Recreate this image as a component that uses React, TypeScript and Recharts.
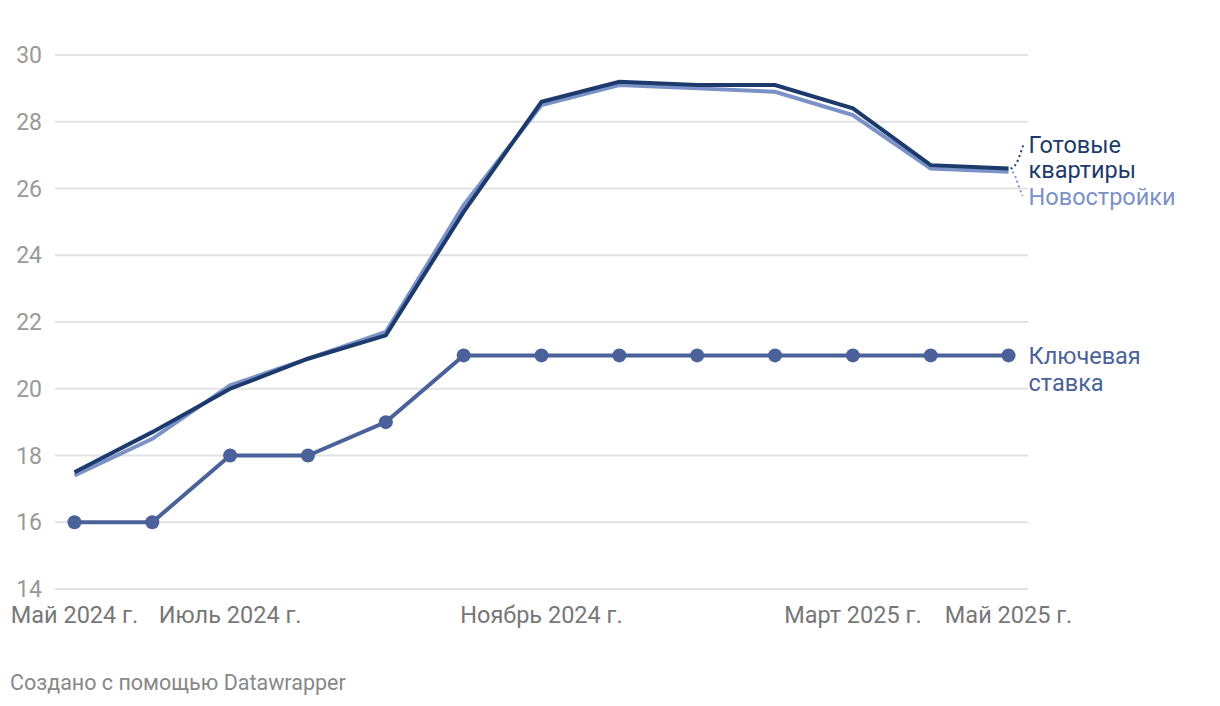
import { CartesianGrid, Line, LineChart, XAxis, YAxis } from 'recharts';

const months = [
  'Май 2024 г.', 'Июнь 2024 г.', 'Июль 2024 г.', 'Август 2024 г.', 'Сентябрь 2024 г.',
  'Октябрь 2024 г.', 'Ноябрь 2024 г.', 'Декабрь 2024 г.', 'Январь 2025 г.', 'Февраль 2025 г.',
  'Март 2025 г.', 'Апрель 2025 г.', 'Май 2025 г.',
];
const ready = [17.5, 18.7, 20.0, 20.9, 21.6, 25.3, 28.6, 29.2, 29.1, 29.1, 28.4, 26.7, 26.6];
const newBuild = [17.4, 18.5, 20.1, 20.9, 21.7, 25.5, 28.5, 29.1, 29.0, 28.9, 28.2, 26.6, 26.5];
const keyRate = [16, 16, 18, 18, 19, 21, 21, 21, 21, 21, 21, 21, 21];
const xTicks = [0, 2, 6, 10, 12];
const yTicks = [14, 16, 18, 20, 22, 24, 26, 28, 30];

const data = months.map((m, i) => ({ i, month: m, ready: ready[i], newBuild: newBuild[i], keyRate: keyRate[i] }));

const FONT = 'Roboto, "Noto Sans", sans-serif';
const DARK = '#1c3a6c';
const LIGHT = '#7a92c8';
const KEY = '#4a6199';
const last = months.length - 1;

function XTick({ x, y, payload }: any) {
  return (
    <text x={x} y={y + 26} textAnchor="middle" fontSize={23.5} fill="#777" fontFamily={FONT}>
      {months[payload.value]}
    </text>
  );
}

function YTick({ x, y, payload }: any) {
  return (
    <text x={x - 5} y={y + 8} textAnchor="end" fontSize={23} fill="#999" fontFamily={FONT}>
      {payload.value}
    </text>
  );
}

function ReadyLabel({ x, y, index }: any) {
  if (index !== last) return null;
  return (
    <g fontFamily={FONT} fontSize={23.5} fill={DARK}>
      <path d={`M${x + 2},${y} C${x + 8},${y} ${x + 12},${y - 16} ${x + 15},${y - 24}`} stroke={DARK} strokeWidth={2} strokeDasharray="2 3" fill="none" />
      <text x={x + 20} y={y - 15}>Готовые</text>
      <text x={x + 20} y={y + 10}>квартиры</text>
    </g>
  );
}

function NewLabel({ x, y, index }: any) {
  if (index !== last) return null;
  return (
    <g fontFamily={FONT} fontSize={23.5} fill={LIGHT}>
      <path d={`M${x + 4},${y} C${x + 8},${y + 4} ${x + 10},${y + 16} ${x + 14},${y + 24}`} stroke={LIGHT} strokeWidth={2} strokeDasharray="2 3" fill="none" />
      <text x={x + 20} y={y + 33}>Новостройки</text>
    </g>
  );
}

function KeyLabel({ x, y, index }: any) {
  if (index !== last) return null;
  return (
    <g fontFamily={FONT} fontSize={23.5} fill={KEY}>
      <text x={x + 20} y={y + 9}>Ключевая</text>
      <text x={x + 20} y={y + 36}>ставка</text>
    </g>
  );
}

export default function App() {
  return (
    <div style={{ position: 'absolute', left: 0, top: 0, width: 1220, height: 706, background: '#fff' }}>
      <LineChart width={1220} height={640} data={data} margin={{ top: 55, right: 192, bottom: 0, left: 0 }}>
        <CartesianGrid horizontal vertical={false} stroke="#e2e2e2" strokeWidth={2} />
        <XAxis
          dataKey="i"
          type="number"
          domain={[-0.25, 12.25]}
          ticks={xTicks}
          tick={<XTick />}
          axisLine={false}
          tickLine={false}
          height={51}
          interval={0}
        />
        <YAxis
          domain={[14, 30]}
          ticks={yTicks}
          tick={<YTick />}
          axisLine={false}
          tickLine={false}
          width={55}
          interval={0}
        />
        <Line
          dataKey="newBuild"
          stroke={LIGHT}
          strokeWidth={4}
          dot={false}
          label={<NewLabel />}
          isAnimationActive={false}
        />
        <Line
          dataKey="ready"
          stroke={DARK}
          strokeWidth={4}
          dot={false}
          label={<ReadyLabel />}
          isAnimationActive={false}
        />
        <Line
          dataKey="keyRate"
          stroke={KEY}
          strokeWidth={4}
          dot={{ r: 7, fill: KEY, stroke: KEY, strokeWidth: 0 }}
          label={<KeyLabel />}
          isAnimationActive={false}
        />
      </LineChart>
      <div style={{ position: 'absolute', left: 10, top: 671, fontFamily: FONT, fontSize: 21.5, color: '#888', lineHeight: '24px' }}>
        Создано с помощью Datawrapper
      </div>
    </div>
  );
}
